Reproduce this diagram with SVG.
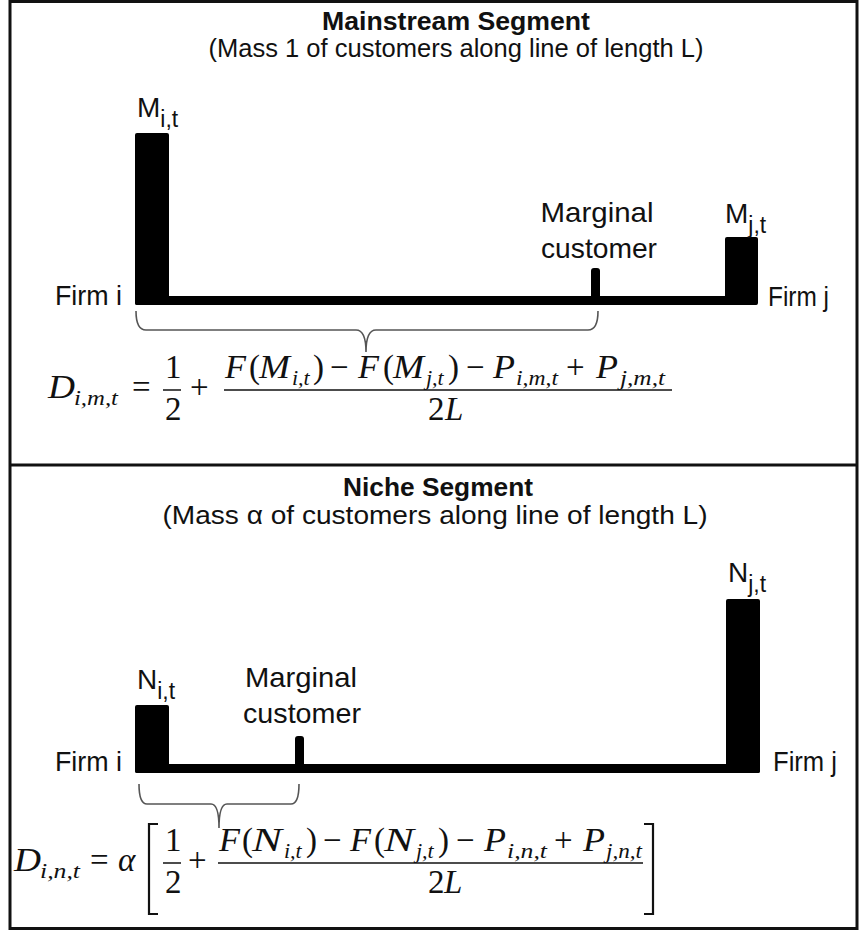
<svg xmlns="http://www.w3.org/2000/svg" width="860" height="932" viewBox="0 0 860 932">
<style>
.t{font-family:"Liberation Sans",Arial,sans-serif;fill:#111}
.h{font-weight:bold;font-size:26.5px}
.s{font-size:26px}
.lbl{font-size:28px}
.sub{font-size:23px}
.firm{font-size:27px}
.m{font-family:"Liberation Serif","Times New Roman",serif;font-style:italic;font-size:33px;fill:#111}
.r{font-style:normal}
.ms{font-size:22px}
.bar{fill:#000}
.brace{fill:none;stroke:#555;stroke-width:1.6}
.rule{stroke:#111;stroke-width:1.5;fill:none}
.brk{stroke:#111;stroke-width:2.2;fill:none}
.frame{fill:none;stroke:#111;stroke-width:3}
</style>
<rect x="0" y="0" width="860" height="932" fill="#fff"/>
<g id="frame">
<rect class="frame" x="10" y="1.5" width="847" height="927"/>
<line class="frame" x1="10" y1="465" x2="857" y2="465"/>
</g>

<g id="mainstream-header">
<text class="t h" x="456" y="30" text-anchor="middle" textLength="268" lengthAdjust="spacingAndGlyphs">Mainstream Segment</text>
<text class="t s" x="456" y="57" text-anchor="middle" textLength="495" lengthAdjust="spacingAndGlyphs">(Mass 1 of customers along line of length L)</text>
</g>

<g id="main-firm-i">
<rect class="bar" x="135" y="133" width="34" height="172" rx="2"/>
<text class="t lbl" x="137" y="117">M<tspan class="sub" dy="10">i,t</tspan></text>
<text class="t firm" x="55" y="305" textLength="67" lengthAdjust="spacingAndGlyphs">Firm i</text>
</g>
<g id="main-line">
<rect class="bar" x="135" y="296" width="622" height="9" rx="2"/>
</g>
<g id="main-marginal">
<rect class="bar" x="591" y="268" width="9" height="37" rx="3"/>
<text class="t lbl" x="597" y="222" text-anchor="middle" textLength="113" lengthAdjust="spacingAndGlyphs">Marginal</text>
<text class="t lbl" x="599" y="258" text-anchor="middle" textLength="116" lengthAdjust="spacingAndGlyphs">customer</text>
</g>
<g id="main-firm-j">
<rect class="bar" x="725" y="237" width="33" height="68" rx="2"/>
<text class="t lbl" x="725" y="223">M<tspan class="sub" dy="10">j,t</tspan></text>
<text class="t firm" x="768" y="306" textLength="61" lengthAdjust="spacingAndGlyphs">Firm j</text>
</g>

<g id="main-formula">
<text class="m" x="48" y="398" textLength="27" lengthAdjust="spacingAndGlyphs">D</text>
<text class="m ms" x="74" y="405" textLength="44" lengthAdjust="spacingAndGlyphs">i,m,t</text>
<text class="m r" x="132" y="398">=</text>
<text class="m r" x="165" y="378">1</text>
<line class="rule" x1="163" y1="390" x2="181" y2="390"/>
<text class="m r" x="165" y="420">2</text>
<text class="m r" x="190" y="398">+</text>
<text class="m" x="225" y="378" textLength="21" lengthAdjust="spacingAndGlyphs">F</text>
<text class="m r" x="249" y="378">(</text>
<text class="m" x="259" y="378" textLength="31" lengthAdjust="spacingAndGlyphs">M</text>
<text class="m ms" x="292" y="385">i,t</text>
<text class="m r" x="313" y="378">)</text>
<text class="m r" x="330" y="378">−</text>
<text class="m" x="358" y="378" textLength="21" lengthAdjust="spacingAndGlyphs">F</text>
<text class="m r" x="383" y="378">(</text>
<text class="m" x="393" y="378" textLength="31" lengthAdjust="spacingAndGlyphs">M</text>
<text class="m ms" x="426" y="385">j,t</text>
<text class="m r" x="448" y="378">)</text>
<text class="m r" x="466" y="378">−</text>
<text class="m" x="493" y="378" textLength="22" lengthAdjust="spacingAndGlyphs">P</text>
<text class="m ms" x="516" y="385" textLength="42" lengthAdjust="spacingAndGlyphs">i,m,t</text>
<text class="m r" x="566" y="378">+</text>
<text class="m" x="596" y="378" textLength="22" lengthAdjust="spacingAndGlyphs">P</text>
<text class="m ms" x="620" y="385" textLength="45" lengthAdjust="spacingAndGlyphs">j,m,t</text>
<line class="rule" x1="224" y1="390" x2="672" y2="390"/>
<text class="m r" x="428" y="420">2</text>
<text class="m" x="445" y="420">L</text>
</g>

<g id="niche-header">
<text class="t h" x="438" y="496" text-anchor="middle" textLength="190" lengthAdjust="spacingAndGlyphs">Niche Segment</text>
<text class="t s" x="435" y="524" text-anchor="middle" textLength="545" lengthAdjust="spacingAndGlyphs">(Mass α of customers along line of length L)</text>
</g>

<g id="niche-firm-i">
<rect class="bar" x="135" y="705" width="34" height="68" rx="2"/>
<text class="t lbl" x="137" y="689">N<tspan class="sub" dy="10">i,t</tspan></text>
<text class="t firm" x="55" y="771" textLength="67" lengthAdjust="spacingAndGlyphs">Firm i</text>
</g>
<g id="niche-line">
<rect class="bar" x="135" y="764" width="625" height="9" rx="2"/>
</g>
<g id="niche-marginal">
<rect class="bar" x="295" y="736" width="9" height="37" rx="3"/>
<text class="t lbl" x="301" y="687" text-anchor="middle" textLength="112" lengthAdjust="spacingAndGlyphs">Marginal</text>
<text class="t lbl" x="302" y="723" text-anchor="middle" textLength="118" lengthAdjust="spacingAndGlyphs">customer</text>
</g>
<g id="niche-firm-j">
<rect class="bar" x="726" y="599" width="34" height="174" rx="2"/>
<text class="t lbl" x="728" y="582">N<tspan class="sub" dy="10">j,t</tspan></text>
<text class="t firm" x="773" y="771" textLength="64" lengthAdjust="spacingAndGlyphs">Firm j</text>
</g>

<g id="niche-formula">
<text class="m" x="14" y="871" textLength="27" lengthAdjust="spacingAndGlyphs">D</text>
<text class="m ms" x="40" y="878" textLength="40" lengthAdjust="spacingAndGlyphs">i,n,t</text>
<text class="m r" x="90" y="871">=</text>
<text class="m" x="118" y="871">α</text>
<polyline class="brk" points="158,824 149,824 149,914 158,914"/>
<text class="m r" x="165" y="851">1</text>
<line class="rule" x1="163" y1="863" x2="181" y2="863"/>
<text class="m r" x="165" y="893">2</text>
<text class="m r" x="188" y="871">+</text>
<text class="m" x="219" y="851" textLength="21" lengthAdjust="spacingAndGlyphs">F</text>
<text class="m r" x="242" y="851">(</text>
<text class="m" x="252" y="851" textLength="30" lengthAdjust="spacingAndGlyphs">N</text>
<text class="m ms" x="284" y="858">i,t</text>
<text class="m r" x="306" y="851">)</text>
<text class="m r" x="323" y="851">−</text>
<text class="m" x="350" y="851" textLength="21" lengthAdjust="spacingAndGlyphs">F</text>
<text class="m r" x="374" y="851">(</text>
<text class="m" x="384" y="851" textLength="30" lengthAdjust="spacingAndGlyphs">N</text>
<text class="m ms" x="416" y="858">j,t</text>
<text class="m r" x="438" y="851">)</text>
<text class="m r" x="456" y="851">−</text>
<text class="m" x="484" y="851" textLength="22" lengthAdjust="spacingAndGlyphs">P</text>
<text class="m ms" x="507" y="858" textLength="40" lengthAdjust="spacingAndGlyphs">i,n,t</text>
<text class="m r" x="554" y="851">+</text>
<text class="m" x="583" y="851" textLength="22" lengthAdjust="spacingAndGlyphs">P</text>
<text class="m ms" x="606" y="858" textLength="36" lengthAdjust="spacingAndGlyphs">j,n,t</text>
<line class="rule" x1="218" y1="863" x2="643" y2="863"/>
<text class="m r" x="428" y="893">2</text>
<text class="m" x="444" y="893">L</text>
<polyline class="brk" points="644,824 653,824 653,914 644,914"/>
</g>

<g id="connectors">
<path id="brace-main" class="brace" d="M136,311 Q136,330 146,330 H356 Q366,330 366,352 Q366,330 376,330 H588 Q598,330 598,311"/>
<path id="brace-niche" class="brace" d="M139,784 Q139,804 147,804 H211 Q219,804 219,828 Q219,804 227,804 H291 Q299,804 299,784"/>
</g>
</svg>
